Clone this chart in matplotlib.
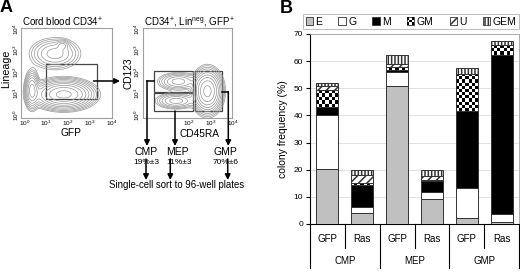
import matplotlib.pyplot as plt
import numpy as np
from matplotlib.patches import Rectangle
from matplotlib.legend_handler import HandlerBase

plt.rcParams['font.family'] = ['Liberation Sans', 'DejaVu Sans']
plt.rcParams['mathtext.fontset'] = 'custom'
plt.rcParams['mathtext.rm'] = 'Liberation Sans'
plt.rcParams['mathtext.it'] = 'Liberation Sans:italic'
plt.rcParams['hatch.linewidth'] = 1.1

# ---- panel B data: colony frequency (%) ----
groups = ['CMP', 'MEP', 'GMP']
conditions = ['GFP', 'Ras', 'GFP', 'Ras', 'GFP', 'Ras']
colony_types = ['E', 'G', 'M', 'GM', 'U', 'GEM']
E = [20.3, 4.0, 50.9, 9.3, 2.1, 0.7]
G = [19.8, 2.2, 5.1, 2.4, 11.1, 2.9]
M = [3.1, 8.3, 0.8, 4.0, 28.4, 58.7]
GM = [6.0, 0.7, 0.9, 0.5, 13.8, 3.7]
U = [1.5, 2.9, 1.4, 1.5, 0.0, 0.0]
GEM = [1.3, 1.9, 3.2, 2.3, 2.0, 1.3]

# ---- panel A data: populations (log10 decades) ----
# left plot: GFP (x) vs Lineage (y)
left_cx = [1.8, 0.35, 1.4, 1.75]
left_cy = [0.95, 1.15, 2.85, 3.25]
left_sx = [0.6, 0.15, 0.55, 0.15]
left_sy = [0.3, 0.4, 0.35, 0.12]
left_w = [1.0, 0.45, 0.2, 0.12]
# right plot: CD45RA (x) vs CD123 (y)
right_cx = [2.85, 1.5, 1.4]
right_cy = [1.1, 1.55, 0.65]
right_sx = [0.3, 0.45, 0.45]
right_sy = [0.45, 0.2, 0.18]
right_w = [1.0, 0.2, 0.2]
# gates
left_gate = (0.99, 0.74, 3.33, 2.37)
gate_names = ['CMP', 'MEP', 'GMP']
gate_x0 = [0.39, 0.39, 2.27]
gate_x1 = [2.19, 2.19, 3.51]
gate_y0 = [1.08, 0.18, 0.18]
gate_y1 = [2.04, 1.00, 2.04]
gate_pct = ['19%±3', '11%±3', '70%±6']

W, H = 520, 272
fig = plt.figure(figsize=(5.2, 2.72), dpi=100)


def px_rect(x0, y0, x1, y1):
    return [x0 / W, 1 - y1 / H, (x1 - x0) / W, (y1 - y0) / H]


gx = np.linspace(-0.4, 4.3, 260)
GX, GY = np.meshgrid(gx, gx)


def density(cx, cy, sx, sy, w):
    z = np.zeros_like(GX)
    for a, b, c, d, e in zip(cx, cy, sx, sy, w):
        z += e * np.exp(-0.5 * (((GX - a) / c) ** 2 + ((GY - b) / d) ** 2))
    return z


dec = ['$10^{%d}$' % i for i in range(5)]


def flow_axes(rect, z, xticks):
    ax = fig.add_axes(rect)
    ax.contour(GX, GY, z, levels=z.max() * np.geomspace(0.02, 0.85, 10),
               colors='#959595', linewidths=0.5)
    ax.set_xlim(-0.15, 4.0)
    ax.set_ylim(-0.15, 4.05)
    ax.set_xticks(xticks)
    ax.set_xticklabels([dec[i] for i in xticks], fontsize=4.6)
    ax.set_yticks(range(5))
    ax.set_yticklabels(dec, fontsize=4.6, rotation=90, va='center')
    ax.tick_params(length=0, pad=0.3)
    for s in ax.spines.values():
        s.set_color('#a0a0a0')
        s.set_linewidth(0.8)
    return ax


axL = flow_axes(px_rect(21, 28, 112, 118),
                density(left_cx, left_cy, left_sx, left_sy, left_w), range(5))
axL.add_patch(Rectangle((left_gate[0], left_gate[1]), left_gate[2] - left_gate[0],
                        left_gate[3] - left_gate[1], fill=False, ec='#444', lw=0.9))
axR = flow_axes(px_rect(142.7, 28, 232.3, 118),
                density(right_cx, right_cy, right_sx, right_sy, right_w), [2, 3, 4])
for x0, x1, y0, y1 in zip(gate_x0, gate_x1, gate_y0, gate_y1):
    axR.add_patch(Rectangle((x0, y0), x1 - x0, y1 - y0, fill=False, ec='#444', lw=0.9))

# ---- overlay for panel A annotations (pixel coords) ----
ov = fig.add_axes([0, 0, 1, 1], zorder=10)
ov.set_xlim(0, W)
ov.set_ylim(H, 0)
ov.axis('off')
ov.patch.set_alpha(0)
arrow = dict(arrowstyle='-|>', mutation_scale=8, lw=1.1, color='black',
             shrinkA=0, shrinkB=0)

ov.text(6.5, 8, 'A', fontsize=13, fontweight='bold', ha='center', va='center')
ov.text(286.5, 8.5, 'B', fontsize=13, fontweight='bold', ha='center', va='center')
ov.text(21.5, 22.5, 'Cord blood CD34$^{+}$', fontsize=7, va='center')
ov.text(143.5, 22.5, r'CD34$^{+}$, Lin$^{\mathrm{neg}}$, GFP$^{+}$', fontsize=7, va='center')
ov.text(6, 69, 'Lineage', fontsize=7.7, rotation=90, ha='center', va='center')
ov.text(71, 133, 'GFP', fontsize=7.3, ha='center', va='center')
ov.text(129, 73, 'CD123', fontsize=7.3, rotation=90, ha='center', va='center')
ov.text(199, 134, 'CD45RA', fontsize=7.3, ha='center', va='center')

ov.annotate('', xy=(120, 81), xytext=(93.5, 81), arrowprops=arrow)
ov.plot([154.3, 147], [80.7, 80.7], color='black', lw=1.1)
ov.annotate('', xy=(147, 146), xytext=(147, 80.7), arrowprops=arrow)
ov.annotate('', xy=(175, 146), xytext=(175, 111), arrowprops=arrow)
ov.plot([221.7, 228.3], [91.7, 91.7], color='black', lw=1.1)
ov.annotate('', xy=(228.3, 146), xytext=(228.3, 91.7), arrowprops=arrow)

label_x = [146, 177.7, 225.3]
pct_x = [146, 179, 226]
sort_x = [146, 170.3, 227.7]
for name, pct, lx, px, sx in zip(gate_names, gate_pct, label_x, pct_x, sort_x):
    ov.text(lx, 152, name, fontsize=7.5, ha='center', va='center')
    ov.text(px, 162.5, pct, fontsize=6, ha='center', va='center')
    ov.annotate('', xy=(sx, 180), xytext=(sx, 159), arrowprops=arrow)
ov.text(176.7, 185.5, 'Single-cell sort to 96-well plates', fontsize=6.9,
        ha='center', va='center')

# ---- panel B: stacked bars ----
axB = fig.add_axes(px_rect(310, 34, 519, 224))
series = [E, G, M, GM, U, GEM]
faces = ['#c0c0c0', 'white', 'black', 'none', 'white', 'white']
hatches = [None, None, None, None, '////', '|||||']
xpos = np.arange(len(conditions))
bw = 0.63
bottom = np.zeros(len(xpos))
for name, vals, fc, ht in zip(colony_types, series, faces, hatches):
    vals = np.array(vals)
    if name == 'GM':
        for xi, b, h in zip(xpos, bottom, vals):
            if h <= 0:
                continue
            nrows = max(1, int(round(h / 1.2)))
            chk = np.add.outer(np.arange(nrows), np.arange(7)) % 2
            axB.imshow(chk, extent=(xi - bw / 2, xi + bw / 2, b, b + h), cmap='gray_r',
                       vmin=0, vmax=1, aspect='auto', interpolation='nearest',
                       origin='lower', zorder=2)
    axB.bar(xpos, vals, bw, bottom=bottom, facecolor=fc, edgecolor='#333333',
            linewidth=0.7, hatch=ht, zorder=3)
    bottom += vals

axB.set_xlim(-0.5, len(conditions) - 0.5)
axB.set_ylim(0, 70)
axB.set_yticks(range(0, 71, 10))
axB.tick_params(axis='y', labelsize=6, length=3, width=0.8, pad=2)
axB.set_xticks([])
axB.yaxis.grid(True, color='#dcdcdc', lw=0.6)
axB.set_axisbelow(True)
axB.spines['left'].set_linewidth(0.8)
axB.spines['bottom'].set_linewidth(0.8)
axB.spines['top'].set_color('#a0a0a0')
axB.spines['right'].set_color('#a0a0a0')
axB.spines['top'].set_linewidth(0.6)
axB.spines['right'].set_linewidth(0.6)
axB.set_ylabel('colony frequency (%)', fontsize=7.5)
axB.yaxis.set_label_coords(-0.105, 0.5)

trans = axB.get_xaxis_transform()
for i, c in enumerate(conditions):
    axB.text(i, -0.079, c, transform=trans, ha='center', va='center', fontsize=7)
for g, name in enumerate(groups):
    left = 2 * g - 0.5
    axB.plot([left, left], [0, -0.232], transform=trans, color='black', lw=0.8, clip_on=False)
    axB.plot([left + 1, left + 1], [0, -0.126], transform=trans, color='black', lw=0.8,
             clip_on=False)
    axB.text(left + 1, -0.195, name, transform=trans, ha='center', va='center', fontsize=7)
axB.plot([len(conditions) - 0.5] * 2, [0, -0.232], transform=trans, color='black', lw=0.8,
         clip_on=False)


class CheckerHandler(HandlerBase):
    def create_artists(self, legend, orig_handle, xdescent, ydescent, width, height,
                       fontsize, trans):
        size = min(width, height)
        x0, y0 = -xdescent, -ydescent + (height - size) / 2
        c = size / 3
        arts = [Rectangle((x0, y0), size, size, facecolor='white', edgecolor='#333333',
                          lw=0.6, transform=trans)]
        for i in range(3):
            for j in range(3):
                if (i + j) % 2 == 0:
                    arts.append(Rectangle((x0 + j * c, y0 + i * c), c, c, facecolor='black',
                                          edgecolor='none', transform=trans))
        return arts


handles = [Rectangle((0, 0), 1, 1, facecolor=fc if fc != 'none' else 'white',
                     edgecolor='#333333', lw=0.6, hatch=ht)
           for fc, ht in zip(faces, hatches)]
leg = axB.legend(handles, colony_types, ncol=6, loc='lower left', mode='expand',
                 bbox_to_anchor=(303 / W, 1 - 29.3 / H, 216 / W, 17.3 / H),
                 bbox_transform=fig.transFigure, borderaxespad=0, fontsize=7.5,
                 handlelength=0.7, handleheight=0.7, handletextpad=0.25,
                 borderpad=0.25, fancybox=False, edgecolor='#a0a0a0',
                 handler_map={handles[3]: CheckerHandler()})
leg.get_frame().set_linewidth(0.6)

fig.savefig('out.png', dpi=100)
